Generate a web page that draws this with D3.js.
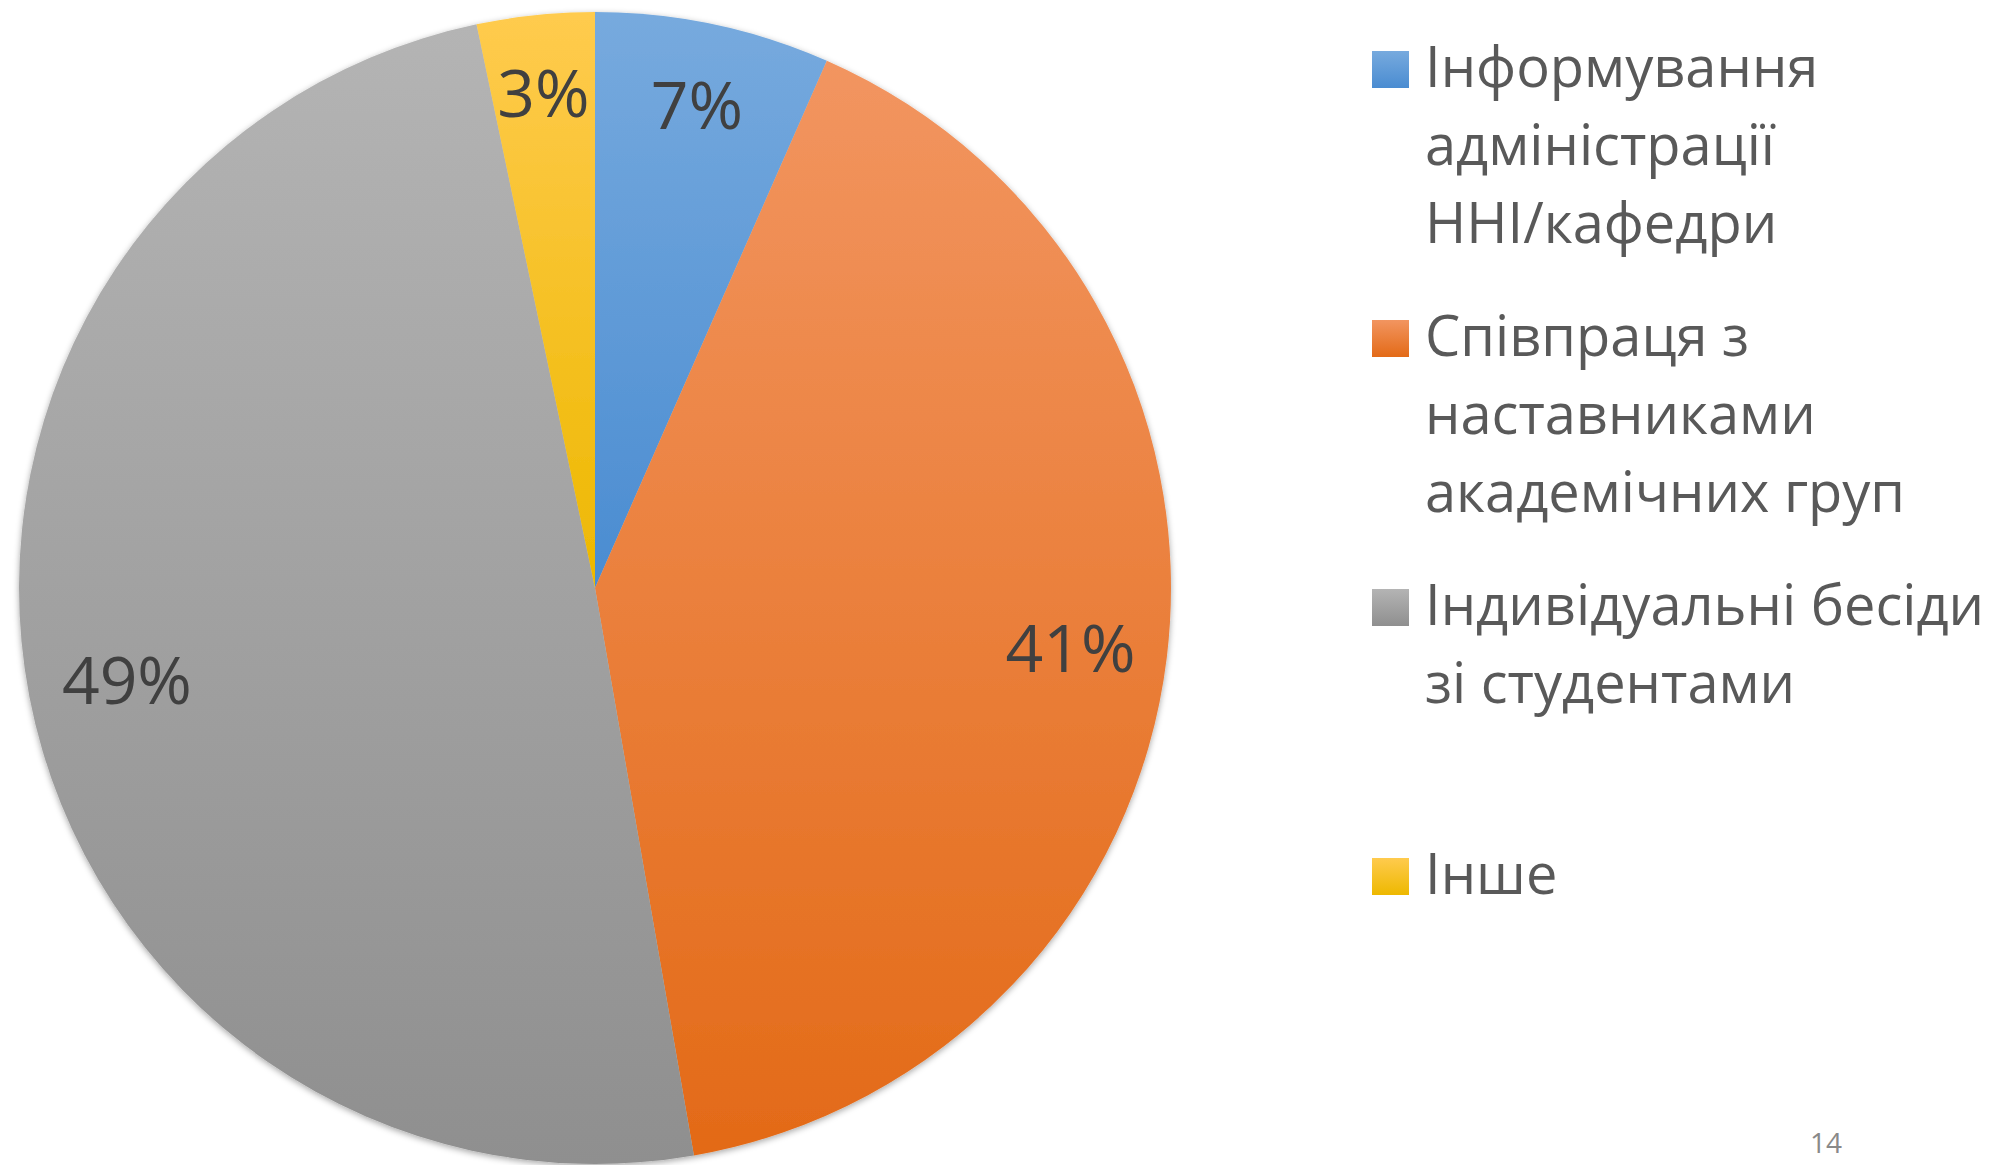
<!DOCTYPE html>
<html>
<head>
<meta charset="utf-8">
<script src="https://cdn.jsdelivr.net/npm/d3@7"></script>
<style>
  html, body { margin: 0; padding: 0; background: #fff; }
  svg { display: block; font-family: 'Open Sans', 'Noto Sans', sans-serif; }
</style>
</head>
<body>
<div class="svgContainer"></div>
<script>
const WIDTH = 1995;
const HEIGHT = 1165;
const CX = 595;
const CY = 588;
const RADIUS = 576;
const LABEL_PAD = 27;

// survey answers (counts)
const categories = [
    'Інформування\nадміністрації\nННІ/кафедри',
    'Співпраця з\nнаставниками\nакадемічних груп',
    'Індивідуальні бесіди\nзі студентами',
    'Інше'
];
const counts = [6, 37, 45, 3];
// top / bottom of the office-style vertical gradient
const topColors = ['#77AADE', '#F29560', '#B4B4B4', '#FFCB4E'];
const bottomColors = ['#4A8CD1', '#E36A17', '#8F8F8F', '#EDB800'];
const pageNumber = '14';

const total = d3.sum(counts);
const formatPct = v => Math.round(v / total * 100) + '%';

const svg = d3.select('.svgContainer')
    .append('svg')
    .attr('width', WIDTH)
    .attr('height', HEIGHT);

const defs = svg.append('defs');

// each slice gets its own top-to-bottom gradient
categories.forEach((c, i) => {
    const g = defs.append('linearGradient')
        .attr('id', 'grad' + i)
        .attr('x1', 0).attr('y1', 0)
        .attr('x2', 0).attr('y2', 1);
    g.append('stop').attr('offset', '0%').attr('stop-color', topColors[i]);
    g.append('stop').attr('offset', '100%').attr('stop-color', bottomColors[i]);
});

defs.append('filter')
    .attr('id', 'shadow')
    .attr('x', '-10%').attr('y', '-10%')
    .attr('width', '120%').attr('height', '120%')
    .append('feDropShadow')
    .attr('dx', 0)
    .attr('dy', 2)
    .attr('stdDeviation', 3)
    .attr('flood-color', '#000')
    .attr('flood-opacity', 0.35);

const pie = d3.pie().sort(null).value(d => d);
const arcs = pie(counts);

const arc = d3.arc().innerRadius(0).outerRadius(RADIUS);

const pieGroup = svg.append('g')
    .attr('transform', `translate(${CX}, ${CY})`);

pieGroup.append('g')
    .attr('filter', 'url(#shadow)')
    .selectAll('path')
    .data(arcs)
    .enter()
    .append('path')
    .attr('d', arc)
    .attr('fill', (d, i) => `url(#grad${i})`);

// percentage labels, pushed to the inside end of each slice
pieGroup.selectAll('text')
    .data(arcs)
    .enter()
    .append('text')
    .attr('text-anchor', 'middle')
    .attr('dominant-baseline', 'central')
    .attr('font-size', 66)
    .attr('fill', '#404040')
    .text(d => formatPct(d.value))
    .attr('transform', function (d) {
        const box = this.getBBox();
        const mid = (d.startAngle + d.endAngle) / 2;
        const reach = Math.abs(Math.sin(mid)) * box.width / 2 + Math.abs(Math.cos(mid)) * box.height / 2;
        const r = RADIUS - LABEL_PAD - reach;
        const a = d3.arc().innerRadius(r).outerRadius(r);
        return `translate(${a.centroid(d)})`;
    });

// legend on the right
const LEGEND_X = 1372;
const LEGEND_TOP = 87;
const ITEM_STEP = 269;
const LINE_HEIGHT = 78;
const SWATCH = 37;

const legend = svg.append('g').attr('id', 'legend');

const items = legend.selectAll('g')
    .data(categories)
    .enter()
    .append('g')
    .attr('transform', (d, i) => `translate(${LEGEND_X}, ${LEGEND_TOP + i * ITEM_STEP})`);

items.append('rect')
    .attr('x', 0)
    .attr('y', -36)
    .attr('width', SWATCH)
    .attr('height', SWATCH)
    .attr('fill', (d, i) => `url(#grad${i})`);

items.append('text')
    .attr('x', 53)
    .attr('y', 0)
    .attr('font-size', 56)
    .attr('fill', '#595959')
    .selectAll('tspan')
    .data(d => d.split('\n'))
    .enter()
    .append('tspan')
    .attr('x', 53)
    .attr('dy', (d, i) => i === 0 ? 0 : LINE_HEIGHT)
    .text(d => d);

svg.append('text')
    .attr('x', 1810)
    .attr('y', 1153)
    .attr('font-size', 28)
    .attr('fill', '#898989')
    .text(pageNumber);
</script>
</body>
</html>
